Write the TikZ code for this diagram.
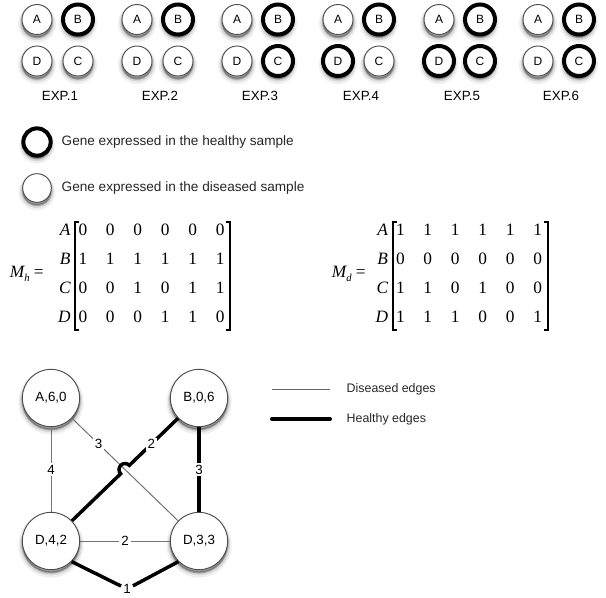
\documentclass[tikz,border=0pt]{standalone}
\usepackage{fontspec}
\setmainfont{Liberation Sans}
\newfontfamily\mtxfont{Liberation Serif}
\usetikzlibrary{calc,matrix}

\tikzset{
  blur/.style={
    preaction={fill=black, draw=black, line width=6pt, opacity=0.06, transform canvas={yshift=-3pt}},
    preaction={fill=black, draw=black, line width=3.5pt, opacity=0.1, transform canvas={yshift=-2.5pt}},
    preaction={fill=black, draw=black, line width=1.5pt, opacity=0.18, transform canvas={yshift=-2pt}}},
  gene/.style={circle, fill=white, inner sep=0pt, blur,
    minimum width=22.5pt, minimum height=22.5pt},
  gl/.style={label={[font=\fontsize{9}{9}\selectfont, inner sep=0pt]center:#1}},
  dis/.style={draw=black!70, line width=0.7pt},
  hea/.style={draw=black, line width=3pt},
  expname/.style={font=\fontsize{10}{10}\selectfont},
  legtext/.style={font=\fontsize{10.2}{10.2}\selectfont, text=black!85, anchor=west},
  mtx/.style={matrix of nodes, column sep=0pt, row sep=0pt,
    nodes={minimum width=20.6pt, minimum height=21.75pt, inner sep=0pt,
      font=\mtxfont\fontsize{13}{13}\selectfont}},
  rowname/.style={anchor=east, inner sep=0pt, font=\mtxfont\itshape\fontsize{13}{13}\selectfont},
  brk/.style={line width=0.8pt},
  vertex/.style={gene, dis, minimum width=43pt, minimum height=43pt,
    label={[font=\fontsize{10}{10}\selectfont, inner sep=0pt]center:#1}},
  dedge/.style={draw=black!55, line width=0.75pt},
  hedge/.style={draw=black, line width=2.6pt},
  elbl/.style={fill=white, inner sep=1.5pt, font=\fontsize{10}{10}\selectfont}
}

\begin{document}
\begin{tikzpicture}[x=0.75pt, y=-0.75pt]
\useasboundingbox (0,0) rectangle (606,597);

% EXP.1
\node[gene, dis, gl=A] (a1) at (37,19.5) {};
\node[gene, hea, gl=B] (b1) at (78,19.5) {};
\node[gene, dis, gl=D] (d1) at (37,61) {};
\node[gene, dis, gl=C] (c1) at (78,61) {};
\node[expname] (exp1) at (60,96) {EXP.1};

% EXP.2
\node[gene, dis, gl=A] (a2) at (137,19.5) {};
\node[gene, hea, gl=B] (b2) at (178,19.5) {};
\node[gene, dis, gl=D] (d2) at (137,61) {};
\node[gene, dis, gl=C] (c2) at (178,61) {};
\node[expname] (exp2) at (160,96) {EXP.2};

% EXP.3
\node[gene, dis, gl=A] (a3) at (237,19.5) {};
\node[gene, hea, gl=B] (b3) at (278,19.5) {};
\node[gene, dis, gl=D] (d3) at (237,61) {};
\node[gene, hea, gl=C] (c3) at (278,61) {};
\node[expname] (exp3) at (260,96) {EXP.3};

% EXP.4
\node[gene, dis, gl=A] (a4) at (338,19.5) {};
\node[gene, hea, gl=B] (b4) at (379,19.5) {};
\node[gene, hea, gl=D] (d4) at (338,61) {};
\node[gene, dis, gl=C] (c4) at (379,61) {};
\node[expname] (exp4) at (361,96) {EXP.4};

% EXP.5
\node[gene, dis, gl=A] (a5) at (439,19.5) {};
\node[gene, hea, gl=B] (b5) at (480,19.5) {};
\node[gene, hea, gl=D] (d5) at (439,61) {};
\node[gene, hea, gl=C] (c5) at (480,61) {};
\node[expname] (exp5) at (462,96) {EXP.5};

% EXP.6
\node[gene, dis, gl=A] (a6) at (538,19.5) {};
\node[gene, hea, gl=B] (b6) at (579,19.5) {};
\node[gene, dis, gl=D] (d6) at (538,61) {};
\node[gene, hea, gl=C] (c6) at (579,61) {};
\node[expname] (exp6) at (561,96) {EXP.6};

% legend for genes
\node[gene, hea, minimum width=20.5pt, minimum height=20.5pt] (lh) at (37,142) {};
\node[legtext] (lht) at (57,142) {Gene expressed in the healthy sample};
\node[gene, dis, minimum width=21.5pt, minimum height=21.5pt] (ld) at (37,188) {};
\node[legtext] (ldt) at (57,188) {Gene expressed in the diseased sample};

% matrix of the healthy sample
\matrix (mh) at (151.5,273.5) [mtx] {
  0 & 0 & 0 & 0 & 0 & 0 \\
  1 & 1 & 1 & 1 & 1 & 1 \\
  0 & 0 & 1 & 0 & 1 & 1 \\
  0 & 0 & 0 & 1 & 1 & 0 \\
};
\node[rowname] (hA) at ($(mh-1-1)+(-12,0)$) {A};
\node[rowname] (hB) at ($(mh-2-1)+(-12,0)$) {B};
\node[rowname] (hC) at ($(mh-3-1)+(-12,0)$) {C};
\node[rowname] (hD) at ($(mh-4-1)+(-12,0)$) {D};
\draw[brk] (79,222) -- (75,222) -- (75,330) -- (79,330);
\draw[brk] (226,222) -- (230,222) -- (230,330) -- (226,330);
\node[anchor=east, inner sep=0pt] (mhname) at (44,274)
  {\mtxfont\fontsize{13}{13}\selectfont\itshape M\raisebox{-3pt}{\fontsize{8}{8}\selectfont h}\upshape\ =};

% matrix of the diseased sample
\matrix (md) at (469,273.5) [mtx] {
  1 & 1 & 1 & 1 & 1 & 1 \\
  0 & 0 & 0 & 0 & 0 & 0 \\
  1 & 1 & 0 & 1 & 0 & 0 \\
  1 & 1 & 1 & 0 & 0 & 1 \\
};
\node[rowname] (dA) at ($(md-1-1)+(-12,0)$) {A};
\node[rowname] (dB) at ($(md-2-1)+(-12,0)$) {B};
\node[rowname] (dC) at ($(md-3-1)+(-12,0)$) {C};
\node[rowname] (dD) at ($(md-4-1)+(-12,0)$) {D};
\draw[brk] (397,222) -- (393,222) -- (393,330) -- (397,330);
\draw[brk] (544,222) -- (548,222) -- (548,330) -- (544,330);
\node[anchor=east, inner sep=0pt] (mdname) at (366,274)
  {\mtxfont\fontsize{13}{13}\selectfont\itshape M\raisebox{-3pt}{\fontsize{8}{8}\selectfont d}\upshape\ =};

% the graph
\node[vertex={A,6,0}] (a60) at (51,398) {};
\node[vertex={B,0,6}] (b06) at (199,398) {};
\node[vertex={D,4,2}] (d42) at (51,541) {};
\node[vertex={D,3,3}] (d33) at (199,541) {};

\draw[dedge] (a60) -- node[elbl] {4} (d42);
\draw[dedge] (a60) -- node[elbl, pos=0.25] {3} (d33);
\draw[dedge] (d42) -- node[elbl] {2} (d33);
\draw[hedge] (b06) -- node[elbl] {3} (d33);
\coordinate (hop) at (intersection of a60--d33 and b06--d42);
\draw[hedge] (b06) -- node[elbl, pos=0.55] {2} ($(hop)!4.5pt!(b06)$)
  arc[start angle=44, end angle=224, radius=4.5pt] -- (d42);
\node[elbl] (one) at (127,589) {1};
\draw[hedge] (d42.-45) -- (one) -- (d33.-135);

% legend for edges
\coordinate (dl1) at (272,389);
\coordinate (dl2) at (330,389);
\draw[dedge, draw=black!60] (dl1) -- (dl2);
\node[legtext, font=\fontsize{9.3}{9.3}\selectfont] (dlt) at (342,389) {Diseased edges};
\coordinate (hl1) at (272,419);
\coordinate (hl2) at (330,419);
\draw[hedge, line cap=round, line width=3pt] (hl1) -- (hl2);
\node[legtext, font=\fontsize{9.3}{9.3}\selectfont] (hlt) at (342,419) {Healthy edges};

\end{tikzpicture}
\end{document}
